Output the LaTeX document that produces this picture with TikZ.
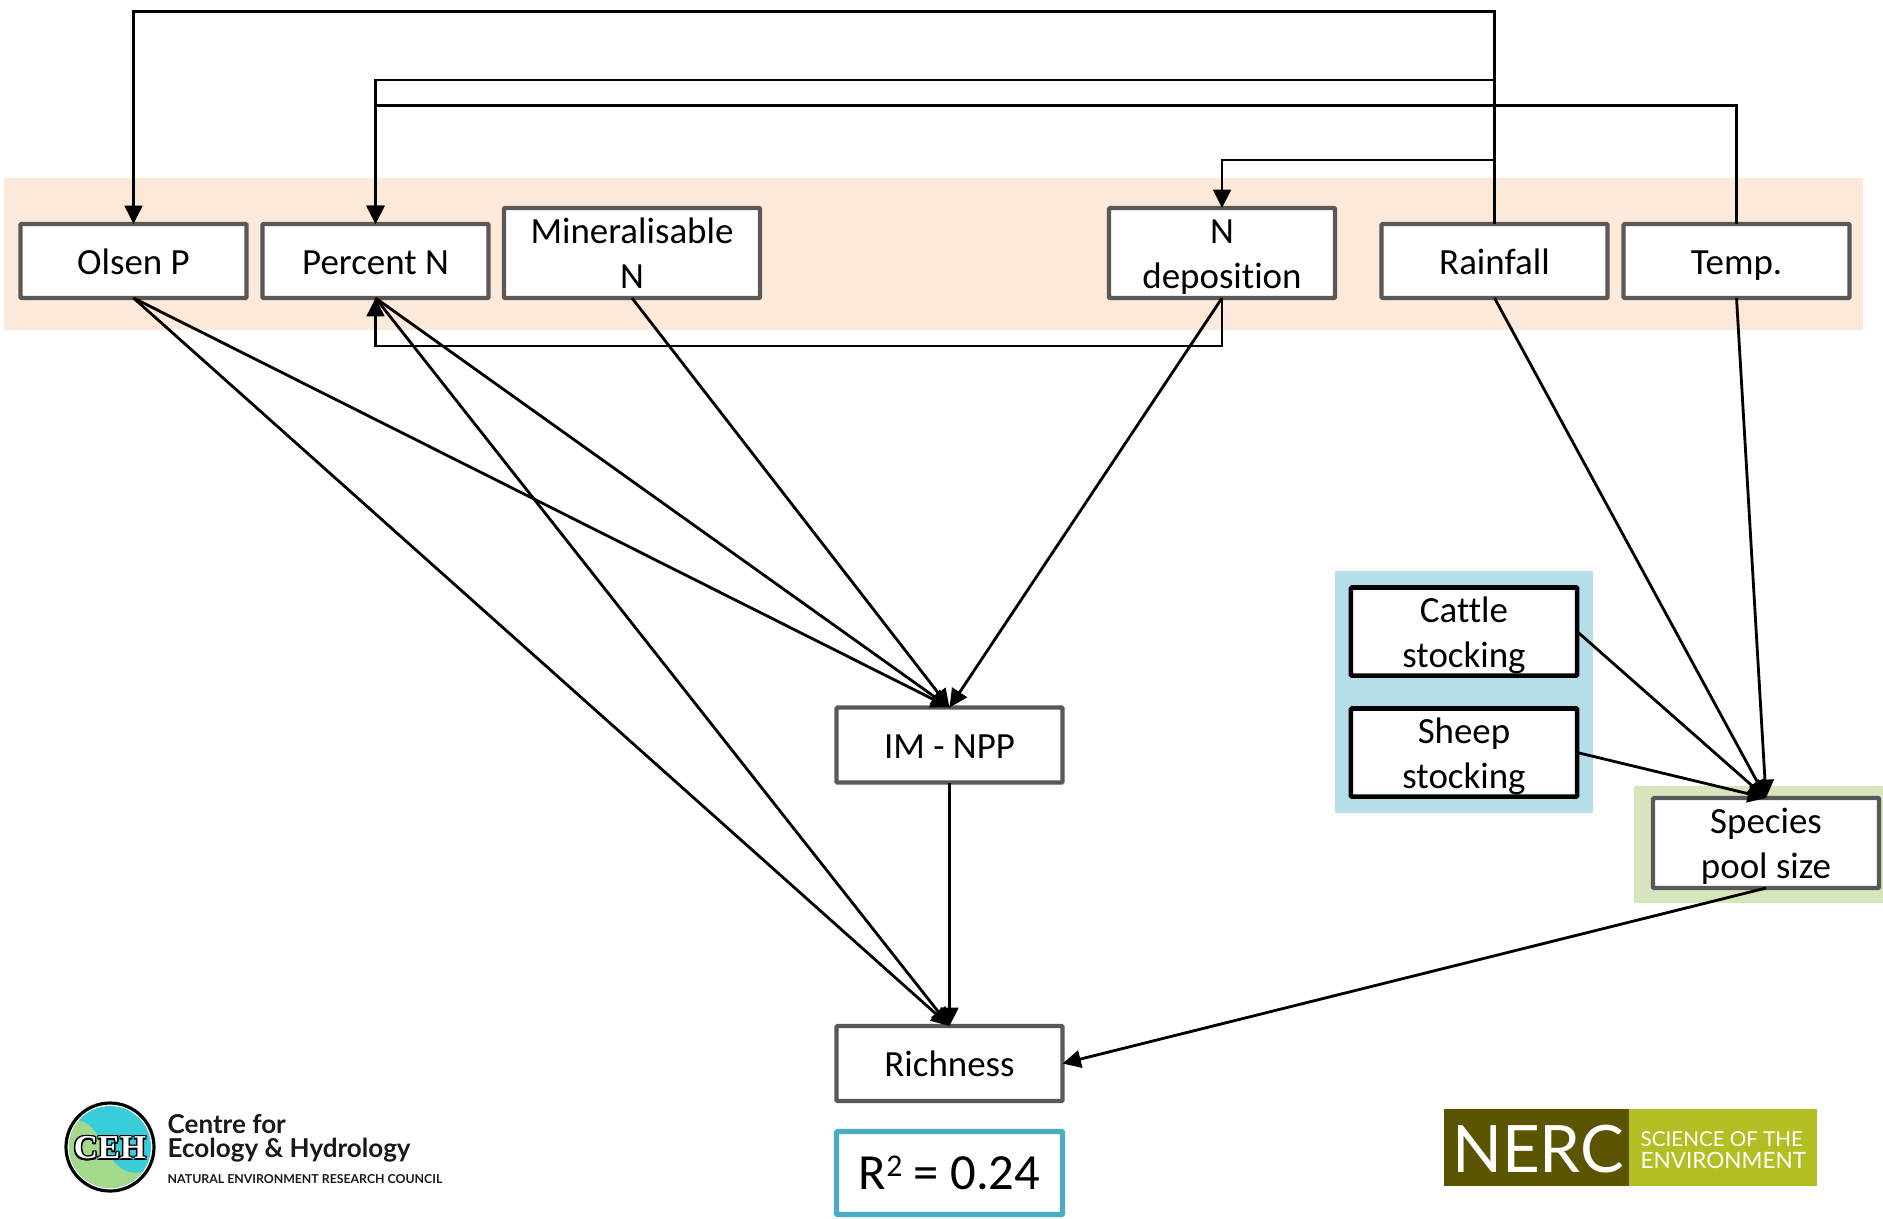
\documentclass[tikz,border=0pt]{standalone}
\usepackage{fontspec}
\setmainfont{Carlito}[Ligatures={NoCommon}]
\newfontfamily\logofont{Lato}
\newfontfamily\cehfont{Liberation Serif}
\usetikzlibrary{arrows.meta}

\definecolor{boxgrey}{HTML}{595959}
\definecolor{soilband}{HTML}{FDE9D9}
\definecolor{stockband}{HTML}{B7DDE8}
\definecolor{poolband}{HTML}{D8E4BC}
\definecolor{fitblue}{HTML}{4BACC6}
\definecolor{cehblue}{HTML}{38CDD9}
\definecolor{cehgreen}{HTML}{A4D98C}
\definecolor{nercdark}{HTML}{5C5500}
\definecolor{nerclight}{HTML}{B2BE22}

\newcommand{\vstrut}{\rule[-2.1pt]{0pt}{11.6pt}}

\tikzset{
  varbox/.style={draw=boxgrey, fill=white, line width=1.2pt, rounded corners=0.3pt,
    minimum width=2.26cm, inner sep=0pt, outer sep=0pt, align=center,
    font=\fontsize{10.5}{12.8}\selectfont},
  stockbox/.style={varbox, draw=black, line width=1.3pt},
  link/.style={line width=0.8pt, -{Triangle[length=5.2pt,width=5pt]}},
}

\begin{document}
\begin{tikzpicture}[x=0.01cm, y=-0.01cm]
  \useasboundingbox (0,0) rectangle (1883,1218);

  % coloured bands behind the boxes
  \fill[soilband] (4,178) rectangle (1863,330);
  \fill[stockband] (1335,571) rectangle (1593,813);
  \fill[poolband] (1634,786) rectangle (1883,903);

  % boxes
  \node [varbox, minimum height=0.74cm](olsen) at (133.5,261) {\vstrut Olsen P};
  \node [varbox, minimum height=0.74cm](percent) at (375.5,261) {\vstrut Percent N};
  \node [varbox, minimum height=0.90cm, minimum width=2.56cm](mineral) at (632,253) {\vstrut Mineralisable\\\vstrut N};
  \node [varbox, minimum height=0.90cm](ndep) at (1222,253) {\vstrut N\\\vstrut deposition};
  \node [varbox, minimum height=0.74cm](rainfall) at (1494.5,261) {\vstrut Rainfall};
  \node [varbox, minimum height=0.74cm](temp) at (1736.5,261) {\vstrut Temp.};
  \node [stockbox, minimum height=0.88cm](cattle) at (1464,631.5) {\vstrut Cattle\\\vstrut stocking};
  \node [stockbox, minimum height=0.88cm](sheep) at (1464,752.5) {\vstrut Sheep\\\vstrut stocking};
  \node [varbox, minimum height=0.90cm](pool) at (1766,843) {\vstrut Species\\\vstrut pool size};
  \node [varbox, minimum height=0.75cm](npp) at (949.5,745) {\vstrut IM - NPP};
  \node [varbox, minimum height=0.75cm](richness) at (949.5,1063.5) {\vstrut Richness};
  \node [varbox, draw=fitblue, line width=1.5pt, minimum height=0.83cm,
    font=\fontsize{14.4}{16}\selectfont](fit) at (949.5,1173) {R\raisebox{0.55ex}{\fontsize{9}{10}\selectfont 2} = 0.24};

  % corners of the routed lines
  \coordinate (olsenrail) at (133.5,11.5);
  \coordinate (percentrail) at (375.5,80);
  \coordinate (temprail) at (375.5,105.5);
  \coordinate (ndeprail) at (1222,160);
  \coordinate (lowrail) at (375.5,346);

  \draw[link] (rainfall.north) |- (olsenrail) -- (olsen.north);
  \draw[link] (rainfall.north) |- (percentrail) -- (percent.north);
  \draw[link] (temp.north) |- (temprail) -- (percent.north);
  \draw[link] (rainfall.north) |- (ndeprail) -- (ndep.north);
  \draw[link] (ndep.south) |- (lowrail) -- (percent.south);

  % into IM - NPP
  \draw[link] (olsen.south) -- (npp.north);
  \draw[link] (percent.south) -- (npp.north);
  \draw[link] (mineral.south) -- (npp.north);
  \draw[link] (ndep.south) -- (npp.north);

  % into richness
  \draw[link] (olsen.south) -- (richness.north);
  \draw[link] (percent.south) -- (richness.north);
  \draw[link] (npp.south) -- (richness.north);
  \draw[link] (pool.south) -- (richness.east);

  % into species pool
  \draw[link] (rainfall.south) -- (pool.north);
  \draw[link] (temp.south) -- (pool.north);
  \draw[link] (cattle.east) -- (pool.north);
  \draw[link] (sheep.east) -- (pool.north);

  % CEH logo
  \begin{scope}
    \clip (110,1147) circle (41);
    \fill[cehblue] (60,1100) rectangle (160,1200);
    \fill[cehgreen] (60,1128) .. controls (85,1110) and (95,1130) .. (105,1148)
      .. controls (115,1168) and (130,1180) .. (152,1168) -- (160,1200) -- (60,1200) -- cycle;
  \end{scope}
  \draw[line width=0.9pt] (110,1147) circle (44);
  \foreach \dx/\dy [count=\i] in {-1.5/0,1.5/0,0/-1.5,0/1.5,-1.1/-1.1,1.1/-1.1,-1.1/1.1,1.1/1.1}
    \node [inner sep=0pt, font=\fontsize{9.5}{10}\cehfont\bfseries\selectfont](cehback\i) at (110+\dx,1148+\dy) {CEH};
  \node [inner sep=0pt, text=white, font=\fontsize{9.5}{10}\cehfont\bfseries\selectfont](cehmark) at (110,1148) {CEH};
  \node [anchor=base west, inner sep=0pt, font=\fontsize{7.4}{8}\logofont\bfseries\selectfont, text=black!90](cehname) at (167,1133) {Centre for};
  \node [anchor=base west, inner sep=0pt, font=\fontsize{7.4}{8}\logofont\bfseries\selectfont, text=black!90](cehsub) at (167,1157) {Ecology \& Hydrology};
  \node [anchor=base west, inner sep=0pt, font=\fontsize{3.5}{4}\logofont\bfseries\selectfont, text=black!90](cehparent) at (167,1183) {NATURAL ENVIRONMENT RESEARCH COUNCIL};

  % NERC logo
  \fill[nercdark] (1444,1109) rectangle (1629,1186);
  \fill[nerclight] (1629,1109) rectangle (1817,1186);
  \node [anchor=base, inner sep=0pt, text=white, font=\fontsize{18.6}{20}\logofont\selectfont](nerc) at (1538,1172) {NERC};
  \node [anchor=base west, inner sep=0pt, text=white, font=\fontsize{5.85}{6}\logofont\selectfont](nercline) at (1640,1146) {SCIENCE OF THE};
  \node [anchor=base west, inner sep=0pt, text=white, font=\fontsize{6.4}{7}\logofont\selectfont](nercenv) at (1640,1168) {ENVIRONMENT};
\end{tikzpicture}
\end{document}
